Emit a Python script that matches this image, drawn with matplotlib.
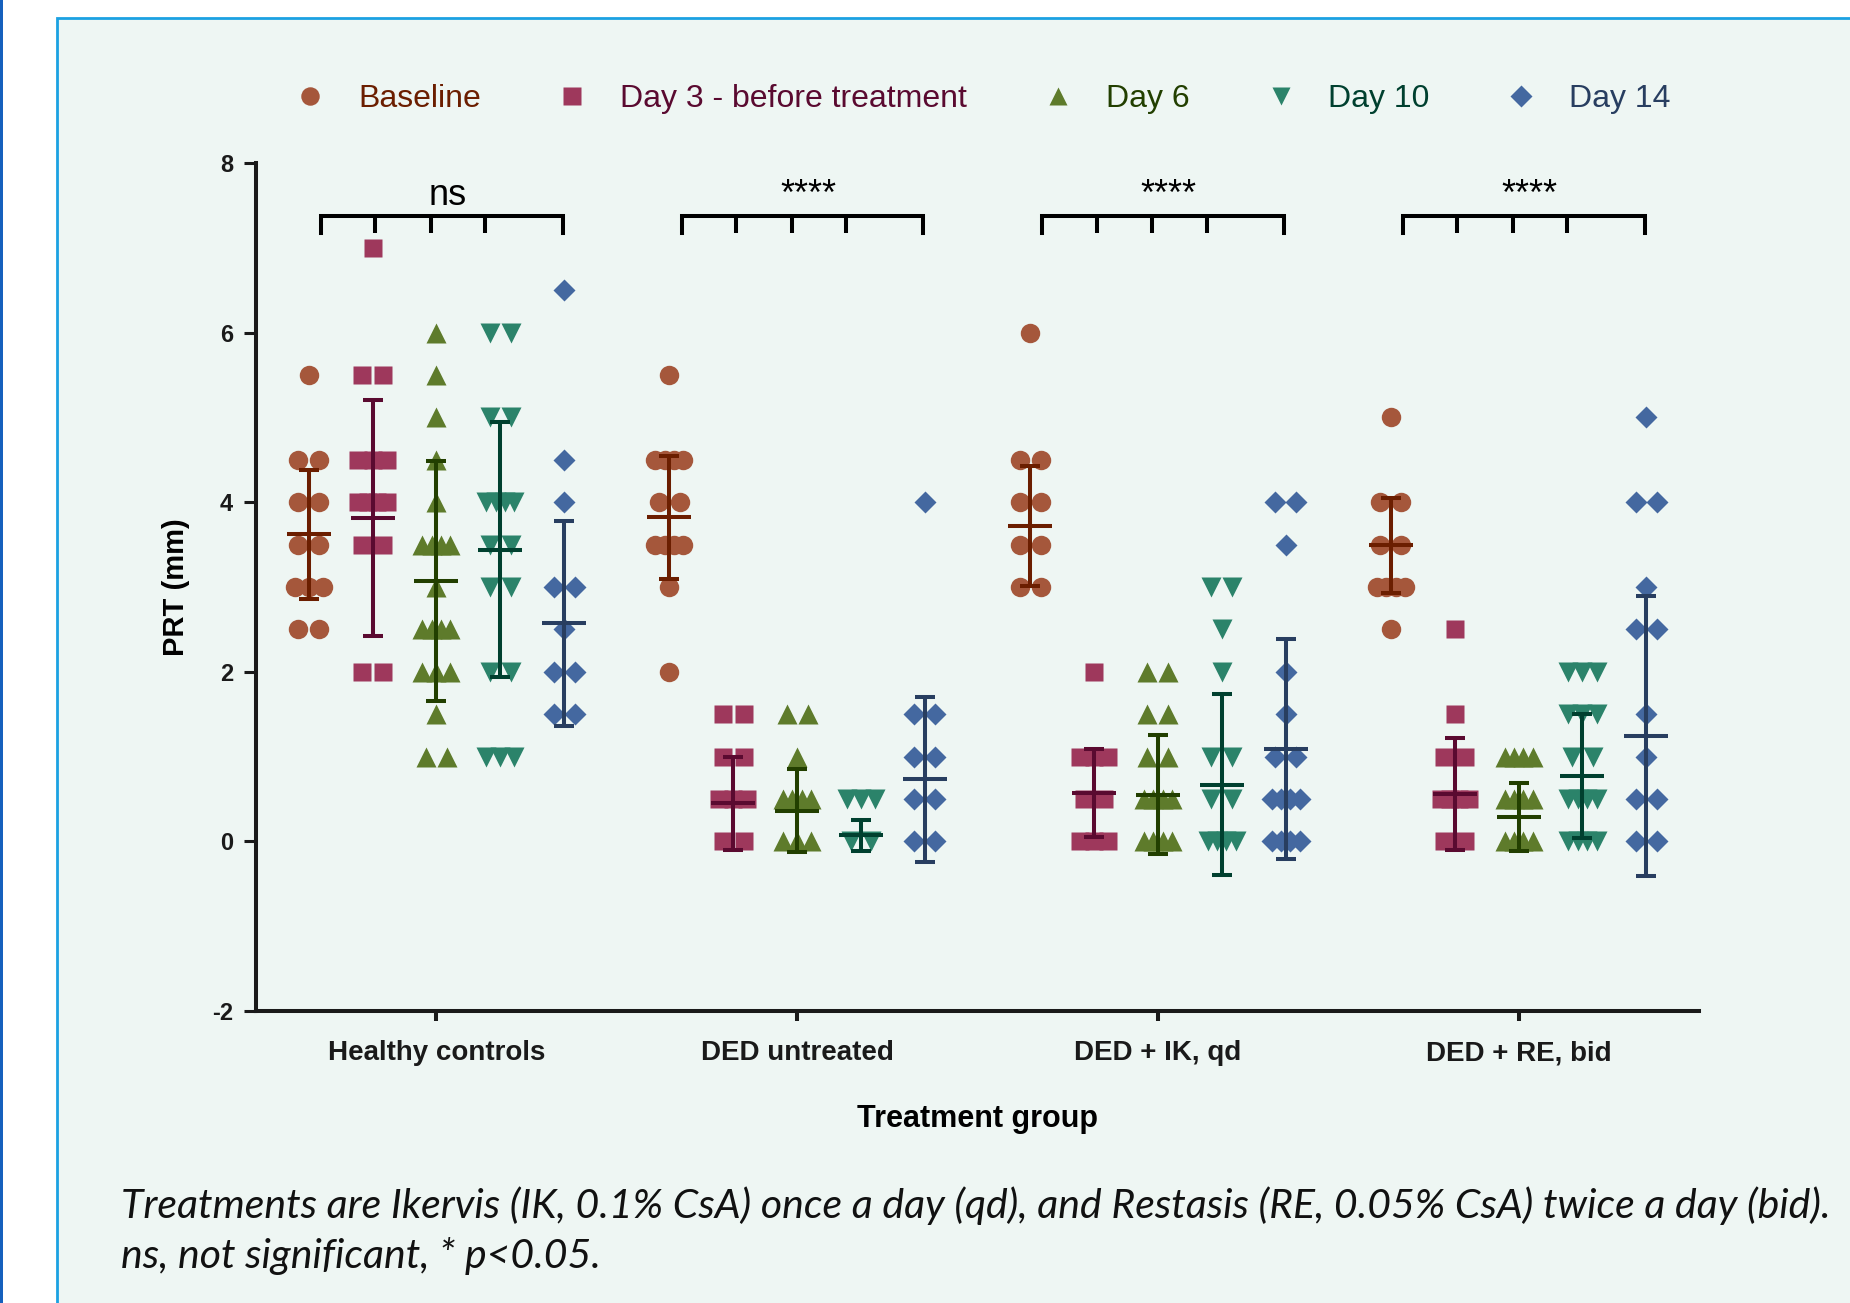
import numpy as np
import matplotlib.pyplot as plt
from matplotlib.patches import Rectangle
from matplotlib.lines import Line2D

plt.rcParams['font.family'] = ['Liberation Sans', 'DejaVu Sans']
plt.rcParams['axes.unicode_minus'] = False

groups = ['Healthy controls', 'DED untreated', 'DED + IK, qd', 'DED + RE, bid']
series = ['Baseline', 'Day 3 - before treatment', 'Day 6', 'Day 10', 'Day 14']
sig = ['ns', '****', '****', '****']

# PRT (mm) per animal, one list per treatment group
baseline = [
    [5.5, 4.5, 4.5, 4.0, 4.0, 3.5, 3.5, 3.0, 3.0, 3.0, 2.5, 2.5],
    [5.5, 4.5, 4.5, 4.5, 4.5, 4.0, 4.0, 3.5, 3.5, 3.5, 3.5, 3.0, 2.0],
    [6.0, 4.5, 4.5, 4.0, 4.0, 3.5, 3.5, 3.0, 3.0],
    [5.0, 4.0, 4.0, 3.5, 3.5, 3.0, 3.0, 3.0, 3.0, 2.5],
]
day3 = [
    [7.0, 5.5, 5.5, 4.5, 4.5, 4.5, 4.0, 4.0, 4.0, 4.0, 3.5, 3.5, 2.0, 2.0],
    [1.5, 1.5, 1.0, 1.0, 0.5, 0.5, 0.5, 0.0, 0.0],
    [2.0, 1.0, 1.0, 1.0, 0.5, 0.5, 0.0, 0.0, 0.0],
    [2.5, 1.5, 1.0, 1.0, 0.5, 0.5, 0.5, 0.5, 0.0, 0.0],
]
day6 = [
    [6.0, 5.5, 5.0, 4.5, 4.0, 3.5, 3.5, 3.5, 3.5, 3.0, 2.5, 2.5, 2.5, 2.5,
     2.0, 2.0, 2.0, 1.5, 1.0, 1.0],
    [1.5, 1.5, 1.0, 0.5, 0.5, 0.5, 0.5, 0.0, 0.0, 0.0],
    [2.0, 2.0, 1.5, 1.5, 1.0, 1.0, 0.5, 0.5, 0.5, 0.5, 0.0, 0.0, 0.0, 0.0],
    [1.0, 1.0, 1.0, 1.0, 0.5, 0.5, 0.5, 0.5, 0.0, 0.0, 0.0, 0.0],
]
day10 = [
    [6.0, 6.0, 5.0, 5.0, 4.0, 4.0, 4.0, 4.0, 3.5, 3.5, 3.0, 3.0, 2.0, 2.0,
     1.0, 1.0, 1.0],
    [0.5, 0.5, 0.5, 0.0, 0.0],
    [3.0, 3.0, 2.5, 2.0, 1.0, 1.0, 0.5, 0.5, 0.0, 0.0, 0.0, 0.0],
    [2.0, 2.0, 2.0, 1.5, 1.5, 1.5, 1.0, 1.0, 0.5, 0.5, 0.5, 0.5, 0.0, 0.0,
     0.0, 0.0],
]
day14 = [
    [6.5, 4.5, 4.0, 3.0, 3.0, 2.5, 2.0, 2.0, 1.5, 1.5],
    [4.0, 1.5, 1.5, 1.0, 1.0, 0.5, 0.5, 0.0, 0.0],
    [4.0, 4.0, 3.5, 2.0, 1.5, 1.0, 1.0, 0.5, 0.5, 0.5, 0.5, 0.0, 0.0, 0.0, 0.0],
    [5.0, 4.0, 4.0, 3.0, 2.5, 2.5, 1.5, 1.0, 0.5, 0.5, 0.0, 0.0],
]

# mean and SD bars as plotted
mean_base = [3.62, 3.82, 3.72, 3.49]
mean_d3 = [3.81, 0.45, 0.57, 0.56]
mean_d6 = [3.07, 0.36, 0.55, 0.29]
mean_d10 = [3.44, 0.07, 0.67, 0.77]
mean_d14 = [2.57, 0.73, 1.09, 1.24]

sd_base = [0.76, 0.72, 0.71, 0.56]
sd_d3 = [1.39, 0.55, 0.52, 0.66]
sd_d6 = [1.41, 0.49, 0.70, 0.40]
sd_d10 = [1.50, 0.185, 1.07, 0.73]
sd_d14 = [1.21, 0.97, 1.30, 1.65]

all_pts = [baseline, day3, day6, day10, day14]
all_mean = [mean_base, mean_d3, mean_d6, mean_d10, mean_d14]
all_sd = [sd_base, sd_d3, sd_d6, sd_d10, sd_d14]

markers = ['o', 's', '^', 'v', 'D']
msizes = [14, 13.5, 14, 14, 11.5]
pt_colors = ['#A5573B', '#9E385C', '#5E7B2B', '#2B836A', '#4468A0']
bar_colors = ['#6B1E00', '#5A0A30', '#223F00', '#00402F', '#283E60']


def swarm(vals, center, step=0.058, wmax=0.078):
    xs, ys = [], []
    for v in sorted(set(vals), reverse=True):
        n = vals.count(v)
        sp = step if n < 2 else min(step, wmax / (n - 1))
        for k in range(n):
            xs.append(center + (k - (n - 1) / 2) * sp)
            ys.append(v)
    return xs, ys


fig = plt.figure(figsize=(18.5, 13.03), dpi=100, facecolor='white')

# background panel
fig.add_artist(Rectangle((57 / 1850, -0.01), 1.0, 1 - 18 / 1303 + 0.01,
                         transform=fig.transFigure, facecolor='#EEF6F3',
                         edgecolor='#1BA1E2', lw=2, zorder=0))
fig.add_artist(Rectangle((0, 0), 2.5 / 1850, 1, transform=fig.transFigure,
                         facecolor='#1560BD', edgecolor='none', zorder=0))

ax = fig.add_axes([256 / 1850, 1 - 1011 / 1303, 1443 / 1850, 848 / 1303])
ax.set_facecolor('none')

offsets = (np.arange(5) - 2) * 0.177
for s in range(5):
    for g in range(4):
        xc = g + offsets[s]
        xs, ys = swarm(all_pts[s][g], xc)
        ax.plot(xs, ys, ls='none', marker=markers[s], ms=msizes[s],
                color=pt_colors[s], mec='none', zorder=3)
        ax.errorbar(xc, all_mean[s][g], yerr=all_sd[s][g], fmt='none',
                    ecolor=bar_colors[s], elinewidth=2.9, capsize=7.2,
                    capthick=2.9, zorder=4)
        ax.plot(xc, all_mean[s][g], marker='_', ms=31, mew=2.9,
                color=bar_colors[s], zorder=5)

# significance brackets
br = [-0.32, -0.17, -0.015, 0.135, 0.35]
y_top, y_bot = 7.38, 7.18
for g in range(4):
    ax.plot([g + br[0], g + br[0], g + br[-1], g + br[-1]],
            [y_bot, y_top, y_top, y_bot], color='black', lw=2.9,
            solid_joinstyle='miter', clip_on=False)
    ax.vlines([g + b for b in br[1:-1]], y_bot, y_top, color='black', lw=2.9)
    ax.text(g + 0.03, 7.5, sig[g], ha='center', va='baseline', fontsize=26,
            color='black')

ax.set_xlim(-0.5, 3.5)
ax.set_ylim(-2, 8)
ax.set_yticks([-2, 0, 2, 4, 6, 8])
ax.set_xticks(range(4))
ax.set_xticklabels(groups, fontsize=20, fontweight='bold')
for lab in ax.get_yticklabels():
    lab.set_fontweight('bold')
ax.tick_params(axis='y', labelsize=17, length=8.5, width=2.2, pad=8, colors='#1a1a1a')
ax.tick_params(axis='x', length=7.2, width=2.9, pad=14, colors='#1a1a1a')
for sp in ['top', 'right']:
    ax.spines[sp].set_visible(False)
for sp in ['left', 'bottom']:
    ax.spines[sp].set_linewidth(2.9)
    ax.spines[sp].set_color('#1a1a1a')

ax.set_ylabel('PRT (mm)', fontsize=21, fontweight='bold')
ax.yaxis.set_label_coords(-0.046, 0.5)
ax.set_xlabel('Treatment group', fontsize=22, fontweight='bold', va='top')
ax.xaxis.set_label_coords(0.5, -0.11)

handles = [Line2D([], [], ls='none', marker=markers[s], ms=msizes[s] * 0.95,
                  color=pt_colors[s], mec='none') for s in range(5)]
leg = fig.legend(handles, series, loc='center', bbox_to_anchor=(0.531, 0.924),
                 ncol=5, frameon=False, fontsize=23, columnspacing=2.35,
                 handletextpad=1.0, handlelength=1.0)
for t, c in zip(leg.get_texts(), bar_colors):
    t.set_color(c)

cap1 = ('Treatments are Ikervis (IK, 0.1% CsA) once a day (qd), and Restasis '
        '(RE, 0.05% CsA) twice a day (bid).')
cap2 = 'ns, not significant, * p<0.05.'
fig.text(121 / 1850, 1 - 1218 / 1303, cap1, fontsize=29.5, style='italic',
         family=['Lato', 'DejaVu Sans'], va='baseline', color='#111111')
fig.text(121 / 1850, 1 - 1268 / 1303, cap2, fontsize=29.5, style='italic',
         family=['Lato', 'DejaVu Sans'], va='baseline', color='#111111')

fig.savefig('out.png', dpi=100, facecolor='white')
